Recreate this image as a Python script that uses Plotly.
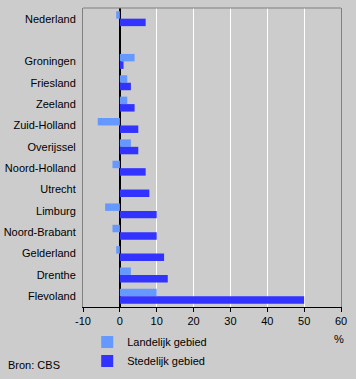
import plotly.graph_objects as go

categories = ["Nederland", " ", "Groningen", "Friesland", "Zeeland", "Zuid-Holland",
              "Overijssel", "Noord-Holland", "Utrecht", "Limburg", "Noord-Brabant",
              "Gelderland", "Drenthe", "Flevoland"]
landelijk = [-1, None, 4, 2, 2, -6, 3, -2, 0, -4, -2, -1, 3, 10]
stedelijk = [7, None, 1, 3, 4, 5, 5, 7, 8, 10, 10, 12, 13, 50]
x_ticks = [-10, 0, 10, 20, 30, 40, 50, 60]

FONT = "Liberation Sans, Arial, sans-serif"
BG = "#cccccc"

fig = go.Figure()
fig.add_trace(go.Bar(y=categories, x=landelijk, orientation="h", name="Landelijk gebied",
                     marker=dict(color="#6699ff", line=dict(width=0))))
fig.add_trace(go.Bar(y=categories, x=stedelijk, orientation="h", name="Stedelijk gebied",
                     marker=dict(color="#3333ff", line=dict(width=0))))

fig.update_layout(
    width=356, height=379,
    margin=dict(l=83, r=15, t=8, b=72, autoexpand=False),
    paper_bgcolor=BG, plot_bgcolor=BG,
    font=dict(family=FONT, size=11, color="#000000"),
    barmode="group", bargap=0.3, bargroupgap=0,
    showlegend=True,
    legend=dict(xref="container", yref="container", x=0.245, y=0.136,
                xanchor="left", yanchor="top",
                bgcolor="rgba(0,0,0,0)", font=dict(size=11, family=FONT),
                tracegroupgap=0, itemwidth=30),
    xaxis=dict(range=[-10, 60], tickvals=x_ticks, ticktext=[str(v) for v in x_ticks],
               showgrid=True, gridcolor="#ffffff", gridwidth=1,
               zeroline=True, zerolinecolor="#000000", zerolinewidth=2,
               showline=True, linecolor="#000000", linewidth=1,
               ticks="outside", ticklen=4, tickcolor="#000000", fixedrange=True,
               automargin=False),
    yaxis=dict(categoryorder="array", categoryarray=categories, autorange="reversed",
               showgrid=False, zeroline=False, showline=True, linecolor="#808080",
               linewidth=1, mirror=True, ticks="", ticklabelstandoff=4, fixedrange=True,
               automargin=False),
    shapes=[dict(type="line", xref="paper", yref="paper", x0=0, x1=1, y0=1, y1=1,
                 line=dict(color="#808080", width=1))],
    annotations=[
        dict(text="%", xref="paper", yref="paper", x=0.992, y=-0.107,
             xanchor="center", yanchor="middle", showarrow=False,
             font=dict(size=11, family=FONT)),
        dict(text="Bron: CBS", xref="paper", yref="paper", x=-0.298, y=-0.194,
             xanchor="left", yanchor="middle", showarrow=False,
             font=dict(size=11, family=FONT)),
    ],
)

fig.write_html("out.html", config={"displayModeBar": False},
               post_script="document.body.style.margin='0';document.body.style.background='#cccccc';")
